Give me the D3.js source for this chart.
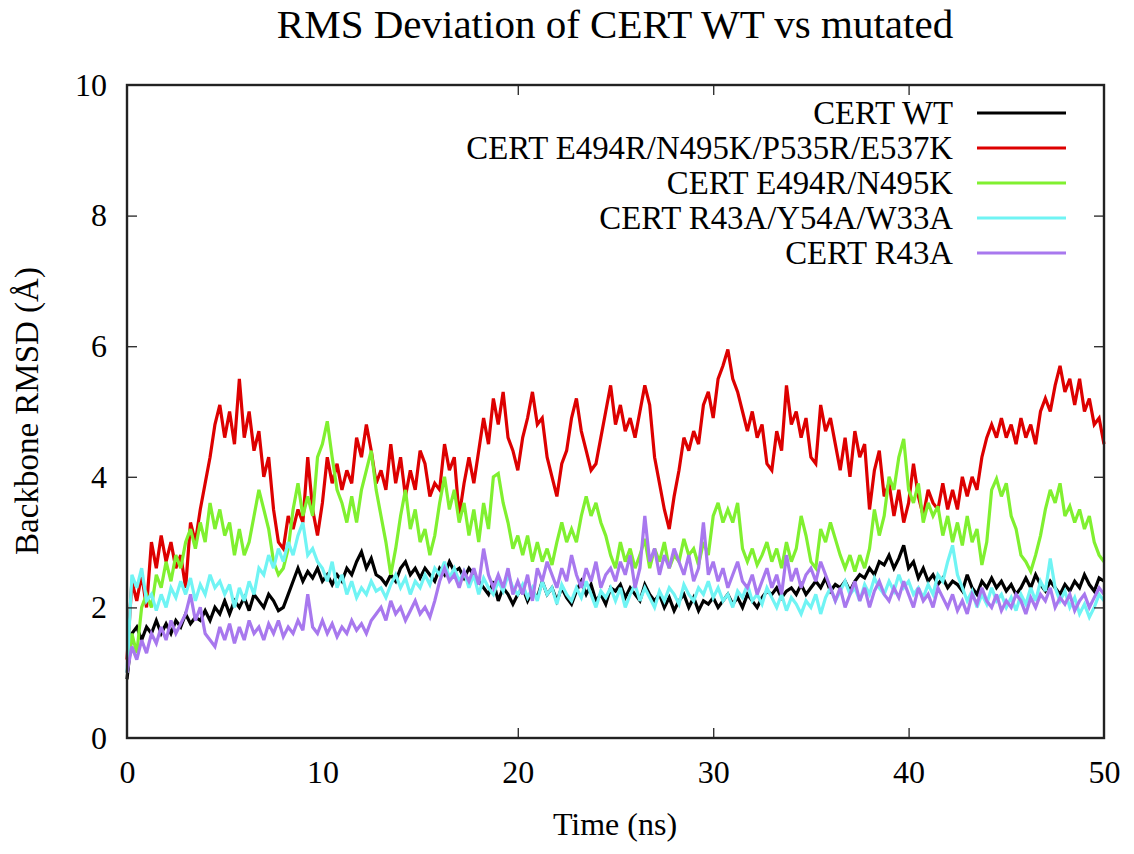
<!DOCTYPE html>
<html lang="en">
<head>
<meta charset="UTF-8">
<title>RMS Deviation of CERT WT vs mutated</title>
<script src="https://d3js.org/d3.v7.min.js"></script>
<style>
  html, body { margin: 0; padding: 0; background: #fff; }
  svg text { font-family: "Liberation Serif", serif; fill: #000; }
</style>
</head>
<body>
<svg id="chart" width="1134" height="854"></svg>
<script>
// sampled every 0.25 ns, 0 .. 50 ns (20 samples per row = 5 ns)
const timeStep = 0.25;

const seriesNames = [
  "CERT WT",
  "CERT E494R/N495K/P535R/E537K",
  "CERT E494R/N495K",
  "CERT R43A/Y54A/W33A",
  "CERT R43A"
];
const seriesColors = ["#000000", "#dd0000", "#80f030", "#70f4f4", "#a878ee"];

const wt = [
  0.9,1.6,1.7,1.5,1.7,1.6,1.8,1.6,1.75,1.6,1.8,1.7,1.9,1.75,1.85,1.8,1.95,1.8,2.0,1.9,
  2.1,1.9,2.1,2.0,2.15,1.95,2.2,2.1,2.0,2.2,2.1,1.95,2.0,2.2,2.4,2.6,2.4,2.55,2.45,2.6,
  2.4,2.5,2.35,2.5,2.4,2.6,2.5,2.7,2.85,2.6,2.75,2.5,2.45,2.35,2.5,2.4,2.6,2.7,2.5,2.6,
  2.45,2.6,2.5,2.4,2.6,2.5,2.7,2.55,2.6,2.45,2.6,2.5,2.4,2.3,2.2,2.4,2.1,2.3,2.2,2.05,
  2.2,2.3,2.1,2.25,2.15,2.4,2.2,2.3,2.1,2.3,2.15,2.05,2.25,2.4,2.2,2.35,2.1,2.2,2.05,2.3,
  2.25,2.35,2.15,2.3,2.2,2.1,2.35,2.2,2.1,2.2,2.0,2.15,1.95,2.1,2.2,2.0,2.15,1.95,2.1,2.05,
  2.15,2.0,2.1,2.2,2.05,2.15,2.0,2.2,2.1,2.0,2.15,2.25,2.2,2.3,2.15,2.25,2.3,2.2,2.35,2.2,
  2.3,2.4,2.3,2.45,2.25,2.35,2.3,2.4,2.25,2.4,2.5,2.45,2.6,2.5,2.7,2.65,2.8,2.6,2.75,2.95,
  2.6,2.7,2.45,2.6,2.4,2.5,2.35,2.45,2.3,2.4,2.35,2.25,2.5,2.3,2.2,2.4,2.3,2.45,2.3,2.4,
  2.25,2.35,2.2,2.3,2.45,2.3,2.5,2.35,2.25,2.4,2.3,2.2,2.35,2.25,2.4,2.3,2.5,2.35,2.25,2.45,
  2.4
];

const quadMutant = [
  1.2,2.4,2.1,2.5,2.0,3.0,2.6,3.1,2.7,3.0,2.6,2.8,2.3,3.3,3.0,3.5,3.9,4.3,4.8,5.1,
  4.6,5.0,4.5,5.5,4.6,5.0,4.4,4.7,4.0,4.3,3.5,3.0,2.9,3.4,3.2,3.5,3.3,4.3,3.5,3.1,
  3.6,4.3,3.9,4.2,3.8,4.1,3.9,4.6,4.3,4.8,4.4,3.9,4.1,3.8,4.5,3.9,4.3,3.7,4.1,3.8,
  4.4,4.2,3.7,3.9,3.8,4.5,4.1,4.3,3.4,3.9,4.3,3.9,4.4,4.9,4.5,5.2,4.8,5.3,4.6,4.4,
  4.1,4.6,4.9,5.3,4.8,4.9,4.3,4.0,3.7,4.2,4.4,4.9,5.2,4.7,4.4,4.1,4.2,4.6,5.0,5.4,
  4.8,5.1,4.7,4.9,4.6,5.0,5.4,5.1,4.3,3.9,3.5,3.2,3.7,4.1,4.6,4.4,4.7,4.5,5.1,5.3,
  4.9,5.5,5.7,5.95,5.5,5.3,5.0,4.7,5.0,4.6,4.8,4.2,4.1,4.7,4.4,5.4,4.8,5.0,4.6,4.9,
  4.3,4.2,5.1,4.7,4.9,4.5,4.1,4.6,4.0,4.7,4.3,4.5,3.5,4.1,4.4,3.7,3.9,3.4,3.8,3.3,
  3.6,4.2,3.7,3.4,3.8,3.6,3.5,3.9,3.5,3.8,3.5,4.0,3.7,4.0,3.8,4.3,4.6,4.8,4.6,4.9,
  4.6,4.8,4.5,4.9,4.6,4.8,4.5,5.0,5.2,5.0,5.4,5.7,5.3,5.5,5.1,5.5,5.0,5.2,4.8,4.9,
  4.5
];

const doubleMutant = [
  1.0,1.6,1.3,2.0,2.2,2.0,2.5,2.3,2.7,2.4,2.8,2.6,3.0,3.2,2.9,3.3,3.0,3.6,3.2,3.5,
  3.1,3.3,2.8,3.2,2.8,3.0,3.4,3.8,3.5,3.2,2.7,2.5,2.6,2.9,3.5,3.9,3.4,3.7,3.4,4.3,
  4.5,4.85,4.3,3.8,3.6,3.3,3.7,3.3,3.8,4.1,4.4,3.8,3.4,3.0,2.5,2.9,3.4,3.8,3.2,3.5,
  3.0,3.2,2.8,3.1,3.6,4.0,3.5,3.8,3.3,3.6,3.1,3.5,3.0,3.6,3.2,4.0,4.05,3.6,3.3,2.9,
  3.1,2.8,3.1,2.7,3.0,2.7,2.9,2.65,3.0,3.3,3.0,3.2,3.0,3.4,3.7,3.4,3.6,3.3,3.1,2.8,
  2.6,3.0,2.7,2.9,2.6,2.8,3.05,2.6,2.9,2.7,3.0,2.6,2.8,2.7,3.05,2.8,2.9,2.65,3.0,2.8,
  3.4,3.6,3.3,3.5,3.3,3.6,2.9,2.7,2.9,2.65,2.8,3.0,2.7,2.9,2.6,3.0,2.7,2.9,3.4,3.1,
  2.7,2.6,3.2,3.0,3.3,3.05,2.8,2.6,2.8,2.55,2.8,2.6,2.9,3.5,3.1,3.4,4.0,3.8,4.3,4.58,
  3.8,3.6,3.9,3.3,3.6,3.4,3.55,3.1,3.4,3.0,3.3,2.95,3.4,3.0,3.2,2.65,3.0,3.8,3.97,3.7,
  3.9,3.4,3.2,2.8,2.7,2.55,2.8,3.1,3.5,3.8,3.6,3.9,3.4,3.55,3.3,3.5,3.2,3.4,3.0,2.8,
  2.7
];

const tripleMutant = [
  1.0,2.5,2.3,2.6,2.1,2.2,1.95,2.2,2.0,2.3,2.15,2.4,2.2,2.45,2.1,2.35,2.2,2.5,2.3,2.4,
  2.2,2.35,2.0,2.3,2.1,2.4,2.2,2.6,2.5,2.8,2.6,2.9,2.7,3.0,2.8,3.1,3.3,2.8,2.9,2.7,
  2.6,2.4,2.7,2.3,2.5,2.2,2.4,2.15,2.3,2.2,2.4,2.25,2.3,2.15,2.35,2.5,2.3,2.45,2.2,2.4,
  2.3,2.5,2.35,2.6,2.5,2.7,2.45,2.6,2.4,2.55,2.3,2.5,2.2,2.45,2.3,2.2,2.4,2.25,2.5,2.3,
  2.2,2.35,2.15,2.3,2.1,2.4,2.2,2.3,2.05,2.35,2.2,2.1,2.3,2.15,2.4,2.2,2.0,2.25,2.15,2.3,
  2.1,2.3,2.0,2.2,2.35,2.1,2.3,2.15,2.0,2.25,2.1,2.3,2.2,2.05,2.35,2.2,2.1,2.3,2.2,2.4,
  2.15,2.3,2.1,2.2,2.0,2.25,2.15,2.35,2.1,2.2,2.05,2.3,2.15,2.0,2.2,1.95,2.15,2.05,1.9,2.1,
  2.0,2.2,1.9,2.15,2.3,2.1,2.25,2.4,2.2,2.3,2.1,2.35,2.2,2.45,2.3,2.2,2.4,2.25,2.5,2.3,
  2.4,2.2,2.3,2.15,2.35,2.2,2.5,2.4,2.7,2.95,2.5,2.3,2.1,2.25,2.0,2.2,2.05,2.3,2.1,2.2,
  2.0,2.15,1.95,2.2,2.05,2.3,2.1,2.4,2.25,2.75,2.3,2.1,2.25,2.0,2.15,1.9,2.05,1.85,2.0,2.2,
  2.1
];

const r43a = [
  1.0,1.4,1.2,1.5,1.3,1.6,1.45,1.7,1.5,1.8,1.6,1.75,1.9,2.2,1.8,2.0,1.6,1.5,1.4,1.7,
  1.5,1.75,1.45,1.7,1.5,1.8,1.6,1.7,1.5,1.75,1.6,1.8,1.55,1.7,1.6,1.8,1.65,2.2,1.7,1.6,
  1.8,1.6,1.75,1.55,1.7,1.6,1.8,1.65,1.75,1.6,1.8,1.9,2.0,1.8,2.1,1.9,2.0,1.8,1.95,2.1,
  1.9,2.0,1.85,2.1,2.4,2.6,2.4,2.5,2.3,2.55,2.4,2.6,2.35,2.9,2.5,2.3,2.5,2.3,2.6,2.2,
  2.4,2.2,2.5,2.1,2.6,2.4,2.7,2.5,2.3,2.6,2.4,2.8,2.5,2.3,2.6,2.4,2.7,2.3,2.5,2.6,
  2.4,2.7,2.5,2.8,2.3,2.6,3.4,2.7,2.9,2.5,2.8,2.6,2.9,2.7,2.5,2.8,2.4,2.6,3.3,2.5,
  2.7,2.4,2.6,2.3,2.5,2.7,2.4,2.3,2.5,2.2,2.4,2.6,2.3,2.5,2.2,2.8,2.4,2.6,2.3,2.5,
  2.6,2.4,2.7,2.5,2.3,2.1,2.3,2.0,2.2,2.4,2.1,2.3,2.0,2.25,2.4,2.2,2.1,2.3,2.15,2.4,
  2.2,2.0,2.3,2.1,2.2,2.0,2.3,2.15,2.0,2.2,1.95,2.1,1.9,2.2,2.05,2.3,2.1,2.0,2.2,1.95,
  2.1,2.0,2.2,2.1,1.9,2.15,2.0,2.2,2.1,2.3,2.0,2.15,2.05,2.2,1.95,2.1,2.2,2.0,2.15,2.3,
  2.2
];

const seriesValues = [wt, quadMutant, doubleMutant, tripleMutant, r43a];
const xTickValues = [0, 10, 20, 30, 40, 50];
const yTickValues = [0, 2, 4, 6, 8, 10];

const fontFamily = "Liberation Serif, serif";
const svg = d3.select("#chart");

// plot frame in page pixels
const plotLeft = 127, plotRight = 1104, plotTop = 85, plotBottom = 738;

const x = d3.scaleLinear().domain([0, 50]).range([plotLeft, plotRight]);
const y = d3.scaleLinear().domain([0, 10]).range([plotBottom, plotTop]);

const plot = svg.append("g");

// series, first one underneath
const line = d3.line()
  .x((d, i) => x(i * timeStep))
  .y(d => y(d));

plot.selectAll("path.series")
  .data(seriesValues)
  .enter()
  .append("path")
  .attr("class", "series")
  .attr("d", d => line(d))
  .attr("fill", "none")
  .attr("stroke", (d, i) => seriesColors[i])
  .attr("stroke-width", 3.2)
  .attr("stroke-linejoin", "miter")
  .attr("stroke-miterlimit", 3);

// axes, ticks pointing inward and mirrored on opposite side
const tickLen = 10;
const xBottom = d3.axisBottom(x).tickValues(xTickValues).tickSizeInner(-tickLen).tickSizeOuter(0).tickPadding(22);
const xTop = d3.axisTop(x).tickValues(xTickValues).tickSizeInner(-tickLen).tickSizeOuter(0).tickFormat("");
const yLeft = d3.axisLeft(y).tickValues(yTickValues).tickSizeInner(-tickLen).tickSizeOuter(0).tickPadding(20);
const yRight = d3.axisRight(y).tickValues(yTickValues).tickSizeInner(-tickLen).tickSizeOuter(0).tickFormat("");

function styleAxis(g) {
  g.attr("font-family", fontFamily);
  g.select(".domain").remove();
  g.selectAll(".tick line").attr("stroke", "#333").attr("stroke-width", 1.4);
  g.selectAll(".tick text")
    .attr("font-family", fontFamily)
    .attr("font-size", 32)
    .attr("fill", "#000");
}

svg.append("g").attr("transform", `translate(0,${plotBottom})`).call(xBottom).call(styleAxis);
svg.append("g").attr("transform", `translate(0,${plotTop})`).call(xTop).call(styleAxis);
svg.append("g").attr("transform", `translate(${plotLeft},0)`).call(yLeft).call(styleAxis);
svg.append("g").attr("transform", `translate(${plotRight},0)`).call(yRight).call(styleAxis);

// hide end ticks that sit on the frame
svg.selectAll(".tick line").filter(function () {
  const v = d3.select(this.parentNode).datum();
  return v === 0 || v === 10 || v === 50;
}).remove();

svg.append("rect")
  .attr("x", plotLeft).attr("y", plotTop)
  .attr("width", plotRight - plotLeft).attr("height", plotBottom - plotTop)
  .attr("fill", "none").attr("stroke", "#222").attr("stroke-width", 2.4);

// titles
svg.append("text")
  .attr("x", 615).attr("y", 38)
  .attr("text-anchor", "middle")
  .attr("font-family", fontFamily)
  .attr("font-size", 41)
  .text("RMS Deviation of CERT WT vs mutated");

svg.append("text")
  .attr("x", 615).attr("y", 835)
  .attr("text-anchor", "middle")
  .attr("font-family", fontFamily)
  .attr("font-size", 32)
  .text("Time (ns)");

svg.append("text")
  .attr("transform", "translate(38,411) rotate(-90)")
  .attr("text-anchor", "middle")
  .attr("font-family", fontFamily)
  .attr("font-size", 33)
  .text("Backbone RMSD (Å)");

// legend
const legend = svg.append("g");
const legendRows = legend.selectAll("g")
  .data(seriesNames)
  .enter()
  .append("g")
  .attr("transform", (d, i) => `translate(0,${113 + i * 35})`);

legendRows.append("text")
  .attr("x", 953).attr("y", 11)
  .attr("text-anchor", "end")
  .attr("font-family", fontFamily)
  .attr("font-size", 32.8)
  .text(d => d);

legendRows.append("line")
  .attr("x1", 977).attr("x2", 1066)
  .attr("y1", 0).attr("y2", 0)
  .attr("stroke", (d, i) => seriesColors[i])
  .attr("stroke-width", 3);
</script>
</body>
</html>
